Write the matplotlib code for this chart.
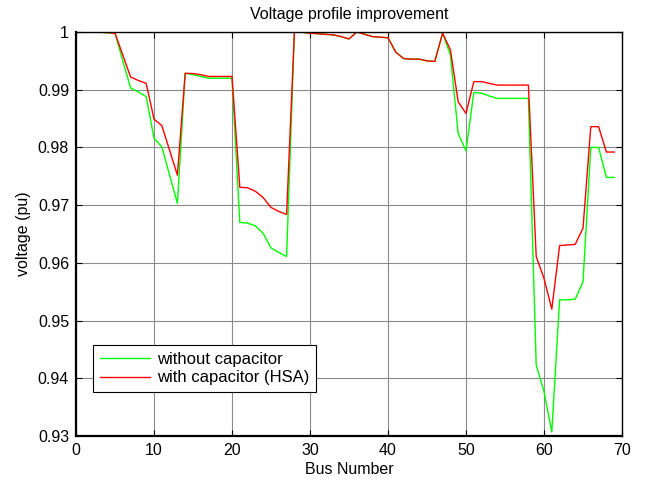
import numpy as np
import matplotlib.pyplot as plt
from matplotlib.ticker import FuncFormatter

plt.rcParams['font.family'] = ['Liberation Sans', 'DejaVu Sans']

# bus numbers 1..69
bus = np.arange(1, 70)

# voltage without capacitor
v_base = [1.0, 1.0, 0.99995, 0.9999, 0.9998, 0.9950, 0.9903, 0.9896, 0.9888, 0.9816,
          0.9801, 0.9752, 0.9703, 0.99285, 0.9926, 0.9923, 0.9920, 0.9920, 0.9920, 0.9920,
          0.9670, 0.9669, 0.9664, 0.9651, 0.9626, 0.9618, 0.9611, 1.0, 0.99995, 0.9998,
          0.9997, 0.9996, 0.9995, 0.9992, 0.9988, 1.0, 0.9996, 0.9992, 0.9991, 0.9990,
          0.9965, 0.9954, 0.9953, 0.9953, 0.9950, 0.9949, 0.9998, 0.9960, 0.9824, 0.9794,
          0.9895, 0.9894, 0.9889, 0.9885, 0.9885, 0.9885, 0.9885, 0.9885, 0.9423, 0.9377,
          0.9307, 0.9536, 0.9536, 0.9537, 0.9567, 0.9800, 0.9800, 0.9748, 0.9748]

# voltage with capacitor placement (HSA)
v_hsa = [1.0, 1.0, 0.99995, 0.9999, 0.9998, 0.9960, 0.9922, 0.9916, 0.9911, 0.9849,
         0.9838, 0.9795, 0.9752, 0.99285, 0.9928, 0.9926, 0.9923, 0.9923, 0.9923, 0.9923,
         0.9731, 0.9730, 0.9724, 0.9713, 0.9696, 0.9689, 0.9684, 1.0, 0.99995, 0.9998,
         0.9997, 0.9996, 0.9995, 0.9992, 0.9988, 1.0, 0.9996, 0.9992, 0.9991, 0.9990,
         0.9965, 0.9954, 0.9953, 0.9953, 0.9950, 0.9949, 0.9998, 0.9969, 0.9879, 0.9859,
         0.9914, 0.9914, 0.9911, 0.9908, 0.9908, 0.9908, 0.9908, 0.9908, 0.9611, 0.9573,
         0.9520, 0.9630, 0.9631, 0.9632, 0.9660, 0.9836, 0.9836, 0.9792, 0.9792]

FS = 11.5

fig = plt.figure(figsize=(6.45, 4.8), dpi=100)
ax = fig.add_axes([76/645, 1 - 436/480, 546/645, 404/480])

ax.plot(bus, v_base, color='#00ff00', lw=1.0, label='without capacitor')
ax.plot(bus, v_hsa, color='#ff0000', lw=1.0, label='with capacitor (HSA)')

ax.set_xlim(0, 70)
ax.set_ylim(0.93, 1.0)
ax.set_xticks(np.arange(0, 71, 10))
ax.set_yticks(np.arange(0.93, 1.0001, 0.01))
ax.yaxis.set_major_formatter(FuncFormatter(lambda v, p: ('%.2f' % v) if v < 0.9999 else '1'))
ax.grid(True, color='#8a8a8a', lw=0.8)
ax.tick_params(direction='in', top=True, right=True, labelsize=FS, length=4, pad=5)
ax.spines['left'].set_linewidth(1.6)
ax.spines['bottom'].set_linewidth(1.6)
ax.spines['top'].set_linewidth(1.0)
ax.spines['right'].set_linewidth(1.0)

ax.set_xlabel('Bus Number', fontsize=FS, labelpad=3)
ax.set_ylabel('voltage (pu)', fontsize=FS, labelpad=5)
ax.set_title('Voltage profile improvement', fontsize=FS, pad=9)

leg = ax.legend(loc='lower left', bbox_to_anchor=(17/546, 44/404), fontsize=12,
                handlelength=3.0, handletextpad=0.45, fancybox=False, framealpha=1,
                edgecolor='black', borderpad=0.4, labelspacing=0.22, borderaxespad=0)
leg.get_frame().set_linewidth(0.8)

plt.savefig('out.png', dpi=100)
